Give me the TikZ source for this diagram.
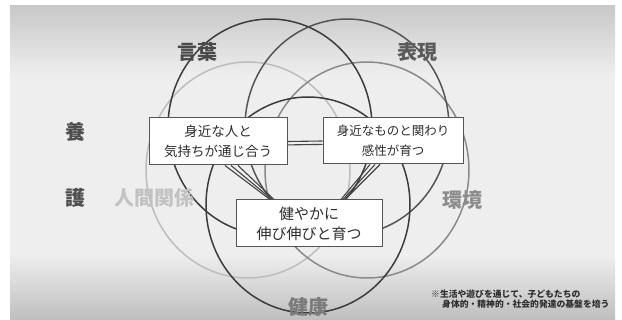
\documentclass[tikz,border=0pt]{standalone}
\usepackage{fontspec}
\newfontfamily\jp{Noto Sans CJK JP}
\usetikzlibrary{calc}
\definecolor{bgtop}{HTML}{C8C8C8}
\definecolor{bgmid}{HTML}{EEEEEE}
\definecolor{bgbot}{HTML}{BEBEBE}
\definecolor{cone}{HTML}{3C3C3C}
\definecolor{ctwo}{HTML}{555555}
\definecolor{cthree}{HTML}{BDBDBD}
\definecolor{cfour}{HTML}{8A8A8A}
\definecolor{cfive}{HTML}{3C3C3C}
\definecolor{labK}{HTML}{4A4A4A}
\definecolor{labH}{HTML}{5A5A5A}
\definecolor{labN}{HTML}{C2C2C2}
\definecolor{labE}{HTML}{8C8C8C}
\definecolor{labKen}{HTML}{7A7A7A}
\definecolor{labY}{HTML}{4E4E4E}
\definecolor{boxc}{HTML}{555555}
\definecolor{txtc}{HTML}{2E2E2E}
\definecolor{linkc}{HTML}{444444}
\begin{document}
\begin{tikzpicture}[x=1pt,y=-1pt,
  ring/.style={line width=1.5pt},
  box/.style={draw=boxc, line width=1pt, fill=white, inner sep=0pt, align=center, text=txtc},
  lab/.style={font=\jp\bfseries\fontsize{20}{20}\selectfont, inner sep=0pt},
  link/.style={draw=linkc, line width=1.1pt}]
\useasboundingbox (0,0) rectangle (622,320);
\fill[white] (0,0) rectangle (622,320);
\shade[top color=bgtop, bottom color=bgmid] (10,6) rectangle (615,75.5);
\fill[bgmid] (10,75) rectangle (615,255.5);
\shade[top color=bgmid, bottom color=bgbot] (10,255) rectangle (615,320);
% rings
\draw[ring, draw=cthree] (248,170) ellipse [x radius=102, y radius=108];
\draw[ring, draw=cfour] (367,170) ellipse [x radius=102, y radius=108];
\draw[ring, draw=ctwo] (347,127) ellipse [x radius=102, y radius=108];
\draw[ring, draw=cone] (270,127) ellipse [x radius=102, y radius=108];
\draw[ring, draw=cfive] (308,205) ellipse [x radius=102, y radius=108];
% boxes
\node[box, minimum width=138pt, minimum height=47pt, font=\jp\fontsize{13.5}{20}\selectfont] (b1) at (218,141.5) {身近な人と\\気持ちが通じ合う};
\node[box, minimum width=140pt, minimum height=46pt, font=\jp\fontsize{12.5}{20}\selectfont] (b2) at (393,141) {身近なものと関わり\\感性が育つ};
\node[box, minimum width=146pt, minimum height=47pt, font=\jp\fontsize{15}{20}\selectfont] (b3) at (309,223.5) {健やかに\\伸び伸びと育つ};
% links
\draw[link] ([yshift=0pt]b1.east) -- ([yshift=0pt]b2.west);
\draw[link] ([yshift=-3.4pt]b1.east) -- ([yshift=-3.4pt]b2.west);
\draw[link] ([xshift=7pt]b1.south) -- ([xshift=-39pt]b3.north);
\draw[link] ([xshift=13pt]b1.south) -- ([xshift=-37pt]b3.north);
\draw[link] ([xshift=20pt]b1.south) -- ([xshift=-35pt]b3.north);
\draw[link] ([xshift=-23pt]b2.south) -- ([xshift=32pt]b3.north);
\draw[link] ([xshift=-18pt]b2.south) -- ([xshift=34pt]b3.north);
\draw[link] ([xshift=-13pt]b2.south) -- ([xshift=36pt]b3.north);
% labels
\node[lab, text=labK] (kotoba) at (197,52) {言葉};
\node[lab, text=labH] (hyogen) at (417,52) {表現};
\node[lab, text=labN] (ningen) at (154,198) {人間関係};
\node[lab, text=labE] (kankyo) at (462,200) {環境};
\node[lab, text=labKen] (kenko) at (308,307) {健康};
\node[lab, text=labY] (yo) at (75,132) {養};
\node[lab, text=labY] (go) at (75,198) {護};
\node[font=\jp\bfseries\fontsize{8.8}{10}\selectfont, align=left, anchor=north west, inner sep=0pt, text=txtc] (note) at (431,290) {※生活や遊びを通じて、子どもたちの\\\hspace*{11pt}身体的・精神的・社会的発達の基盤を培う};
\end{tikzpicture}
\end{document}
